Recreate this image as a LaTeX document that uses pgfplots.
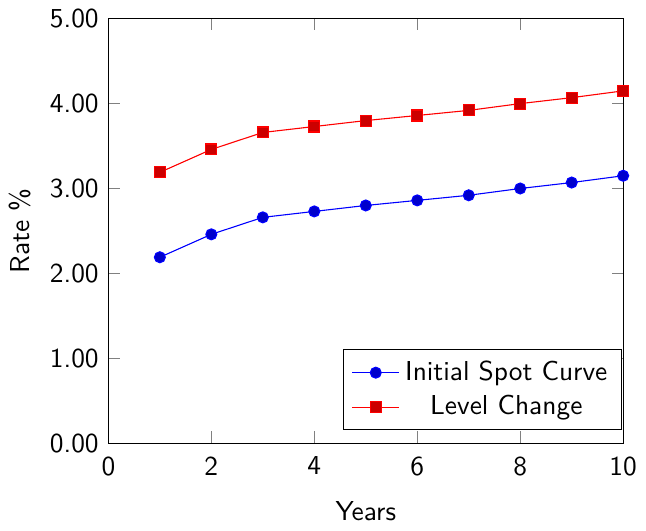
\documentclass[border=0pt]{standalone}
\usepackage{pgfplots}
\pgfplotsset{compat=1.18}
\renewcommand{\familydefault}{\sfdefault}
\begin{document}
\begin{tikzpicture}
\begin{axis}[
  scale only axis,
  width=188pt, height=155pt,
  xmin=0, xmax=10, ymin=0, ymax=5,
  xtick={0,2,4,6,8,10},
  ytick={0,1,2,3,4,5},
  /pgf/number format/assume math mode=true,
  ticklabel style={font=\sffamily},
  xticklabel style={yshift=-1.5pt},
  yticklabel style={/pgf/number format/fixed, /pgf/number format/fixed zerofill, /pgf/number format/precision=2},
  xlabel={Years}, ylabel={Rate \%},
  xlabel style={yshift=-2.5pt},
  legend style={at={(0.997,0.03)}, anchor=south east, font=\sffamily},
  legend cell align=center,
]
\addplot coordinates {(1,2.19) (2,2.46) (3,2.66) (4,2.73) (5,2.80) (6,2.86) (7,2.92) (8,3.00) (9,3.07) (10,3.15)};
\addlegendentry{Initial Spot Curve}
\addplot coordinates {(1,3.19) (2,3.46) (3,3.66) (4,3.73) (5,3.80) (6,3.86) (7,3.92) (8,4.00) (9,4.07) (10,4.15)};
\addlegendentry{Level Change}
\end{axis}
\end{tikzpicture}
\end{document}
